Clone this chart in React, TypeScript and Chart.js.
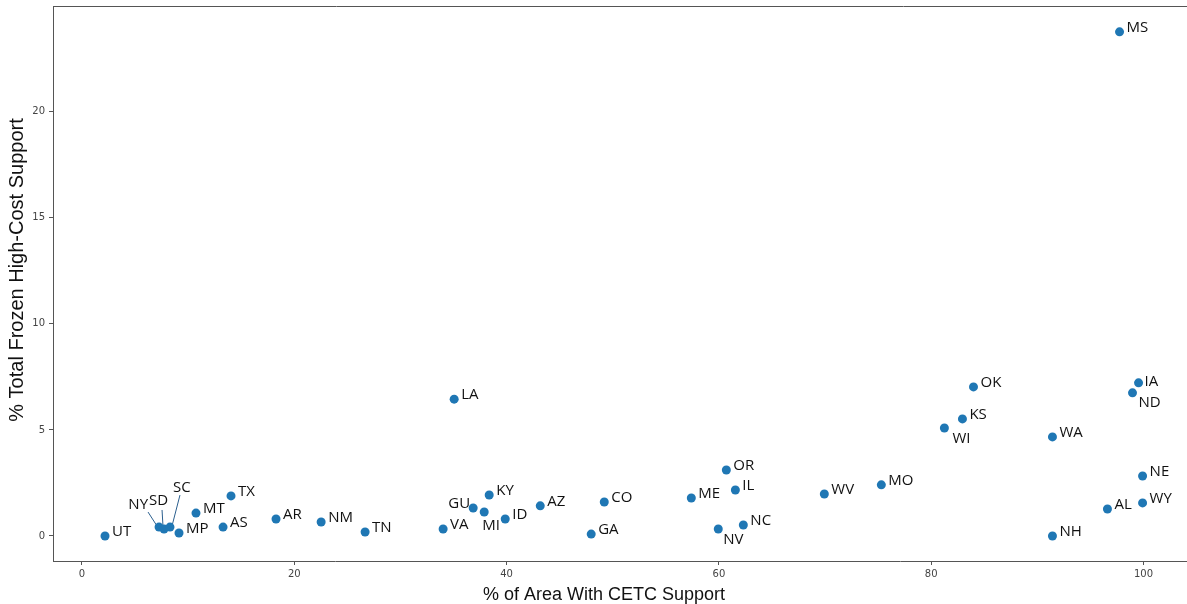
import { useEffect, useRef } from 'react';
import { Chart, registerables } from 'chart.js';

Chart.register(...registerables);

const states = ['UT','NY','SD','SC','MP','MT','AS','TX','AR','NM','TN','LA','VA','GU','MI','KY','ID','AZ','CO','GA','ME','OR','IL','NV','NC','WV','MO','OK','KS','WI','WA','NH','MS','IA','ND','NE','WY','AL'];
const areaPct = [2.17,7.26,7.73,8.29,9.14,10.74,13.29,14.04,18.28,22.53,26.67,35.06,34.02,36.85,37.89,38.36,39.87,43.17,49.2,47.97,57.4,60.7,61.55,59.94,62.3,69.93,75.3,83.98,82.94,81.24,91.42,91.42,97.74,99.53,98.96,99.91,99.91,96.6];
const frozenPct = [0.0,0.42,0.33,0.42,0.14,1.08,0.42,1.89,0.8,0.66,0.19,6.45,0.33,1.32,1.13,1.93,0.8,1.42,1.6,0.09,1.79,3.11,2.17,0.33,0.52,1.98,2.41,7.03,5.52,5.09,4.67,0.0,23.77,7.22,6.75,2.83,1.56,1.27];
const xTicks = [0, 20, 40, 60, 80, 100];
const yTicks = [0, 5, 10, 15, 20];
const xTitle = '% of Area With CETC Support';
const yTitle = '% Total Frozen High-Cost Support';

// label placement (pixel offsets from the point): [dx, dy, align, leader?]
type Place = { dx: number; dy: number; align?: 'left' | 'right'; leader?: [number, number, number, number] };
const defaultPlace: Place = { dx: 7, dy: 0 };
const placements: Record<string, Place> = {
  NV: { dx: 5, dy: 15 },
  WI: { dx: 8, dy: 15 },
  ND: { dx: 6, dy: 14 },
  IA: { dx: 6, dy: 3 },
  MI: { dx: -2, dy: 18 },
  GU: { dx: -3, dy: 0, align: 'right' },
  NY: { dx: -11, dy: -18, align: 'right', leader: [-11, -15, -2, -1] },
  SD: { dx: -15, dy: -24, leader: [-2, -19, -1, -2] },
  SC: { dx: 3, dy: -35, leader: [10, -32, 2, -1] },
};

const labelPlugin = {
  id: 'stateLabels',
  beforeDatasetsDraw(chart: any) {
    const ctx = chart.ctx;
    const meta = chart.getDatasetMeta(0);
    ctx.save();
    ctx.strokeStyle = '#2b5f8e';
    ctx.lineWidth = 1;
    states.forEach((s, i) => {
      const p = placements[s];
      if (!p || !p.leader) return;
      const el = meta.data[i];
      ctx.beginPath();
      ctx.moveTo(el.x + p.leader[0], el.y + p.leader[1]);
      ctx.lineTo(el.x + p.leader[2], el.y + p.leader[3]);
      ctx.stroke();
    });
    ctx.restore();
  },
  afterDatasetsDraw(chart: any) {
    const ctx = chart.ctx;
    const meta = chart.getDatasetMeta(0);
    ctx.save();
    ctx.font = '15px "Open Sans"';
    ctx.fillStyle = '#111';
    ctx.textBaseline = 'alphabetic';
    states.forEach((s, i) => {
      const p = placements[s] || defaultPlace;
      const el = meta.data[i];
      ctx.textAlign = p.align || 'left';
      ctx.fillText(s, el.x + p.dx, el.y + p.dy);
    });
    ctx.restore();
  },
  afterDraw(chart: any) {
    const ctx = chart.ctx;
    const a = chart.chartArea;
    ctx.save();
    ctx.strokeStyle = '#555';
    ctx.lineWidth = 1;
    ctx.beginPath();
    ctx.moveTo(a.left, Math.round(a.top) + 0.5);
    ctx.lineTo(chart.width, Math.round(a.top) + 0.5);
    ctx.moveTo(a.right, Math.round(a.bottom) + 0.5);
    ctx.lineTo(chart.width, Math.round(a.bottom) + 0.5);
    ctx.stroke();
    ctx.fillStyle = '#111';
    ctx.font = '18px "Liberation Sans"';
    ctx.textAlign = 'center';
    ctx.textBaseline = 'alphabetic';
    ctx.fillText(xTitle, 604, 600);
    ctx.font = '20px "Liberation Sans"';
    ctx.translate(23, 270);
    ctx.rotate(-Math.PI / 2);
    ctx.fillText(yTitle, 0, 0);
    ctx.restore();
  },
};

export default function App() {
  const ref = useRef<HTMLCanvasElement | null>(null);
  useEffect(() => {
    document.body.style.margin = '0';
    if (!ref.current) return;
    const chart = new Chart(ref.current, {
      type: 'scatter',
      data: {
        datasets: [
          {
            data: areaPct.map((x, i) => ({ x, y: frozenPct[i] })),
            backgroundColor: '#1f77b4',
            borderWidth: 0,
            pointRadius: 4.5,
          },
        ],
      },
      options: {
        responsive: false,
        animation: false,
        layout: { padding: { top: 6, right: 0, left: 0, bottom: 0 } },
        plugins: { legend: { display: false }, tooltip: { enabled: false } },
        scales: {
          x: {
            type: 'linear',
            min: -2.73,
            max: 103.67,
            afterBuildTicks: (s: any) => { s.ticks = xTicks.map((v) => ({ value: v })); },
            afterFit: (s: any) => { s.height = 43; s.paddingLeft = 0; s.paddingRight = 0; },
            grid: { drawOnChartArea: false, drawTicks: true, tickLength: 4, color: '#555' },
            border: { display: true, color: '#555' },
            ticks: { color: '#444', font: { family: 'DejaVu Sans', size: 10 }, padding: 3, maxRotation: 0 },
          },
          y: {
            type: 'linear',
            min: -1.18,
            max: 24.99,
            afterBuildTicks: (s: any) => { s.ticks = yTicks.map((v) => ({ value: v })); },
            afterFit: (s: any) => { s.width = 53; s.paddingTop = 0; s.paddingBottom = 0; },
            grid: { drawOnChartArea: false, drawTicks: true, tickLength: 4, color: '#555' },
            border: { display: true, color: '#555' },
            ticks: { color: '#444', font: { family: 'DejaVu Sans', size: 10 }, padding: 4 },
          },
        },
      },
      plugins: [labelPlugin],
    });
    return () => chart.destroy();
  }, []);
  return (
    <div style={{ width: 1187, height: 604 }}>
      <canvas ref={ref} width={1187} height={604} style={{ width: 1187, height: 604, display: 'block' }} />
    </div>
  );
}
